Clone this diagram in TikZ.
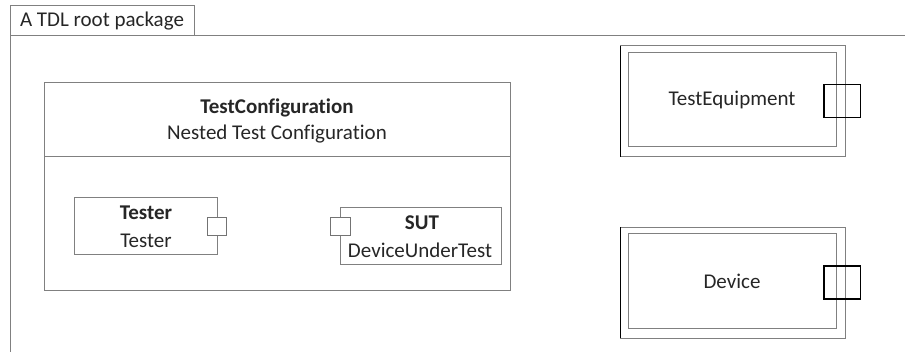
\documentclass[tikz,border=0pt]{standalone}
\usepackage{fontspec}
\setmainfont{Carlito}[Ligatures={NoCommon}]
\tikzset{
    frame/.style={draw=black!50, line width=1pt},
    port/.style={draw=black, line width=1.8pt},
    smallport/.style={draw=black!55, line width=1pt},
    label/.style={inner sep=0pt, font=\fontsize{21}{25}\selectfont, text=black!85},
}
\begin{document}
\begin{tikzpicture}[x=1pt, y=-1pt]
        \useasboundingbox (0,0) rectangle (905,352);
        % root package
        \draw[frame] (10,6) rectangle (194,35.5) node[label, pos=.5] (pkg) {A TDL root package};
        \draw[frame] (10,352) -- (10,35.5) -- (905,35.5);
        % test configuration
        \draw[frame] (44,83) rectangle (510,291);
        \draw[frame] (44,157) -- (510,157);
        \node[label, font=\fontsize{21}{25}\selectfont\bfseries] (cfg) at (277,108) {TestConfiguration};
        \node[label] (cfgname) at (277,134) {Nested Test Configuration};
        % components
        \draw[frame] (74,197.5) rectangle (217.5,255);
        \node[label, font=\fontsize{21}{25}\selectfont\bfseries] (tester) at (146,213) {Tester};
        \node[label] (testertype) at (146,241) {Tester};
        \draw[smallport, fill=white] (207.5,217.5) rectangle (226.5,236);
        \draw[frame] (340,207.5) rectangle (501.5,265);
        \node[label, font=\fontsize{21}{25}\selectfont\bfseries] (sut) at (422,223) {SUT};
        \node[label] (suttype) at (420,250) {DeviceUnderTest};
        \draw[smallport, fill=white] (330,217.5) rectangle (350.5,236);
        % component types
        \foreach \y/\name/\txt in {46/equip/TestEquipment, 227.5/device/Device} {
            \draw[frame] (620.5,\y) rectangle (845.5,\y+111);
            \draw[black, line width=1pt] (620.5,\y) -- (620.5,\y+111);
            \draw[frame] (628.5,\y+6.5) rectangle (836.5,\y+101);
            \node[label] (\name) at (732,\y+54) {\txt};
            \draw[port] (824,\y+38.5) rectangle (860.5,\y+71.5);
        }
\end{tikzpicture}
\end{document}
